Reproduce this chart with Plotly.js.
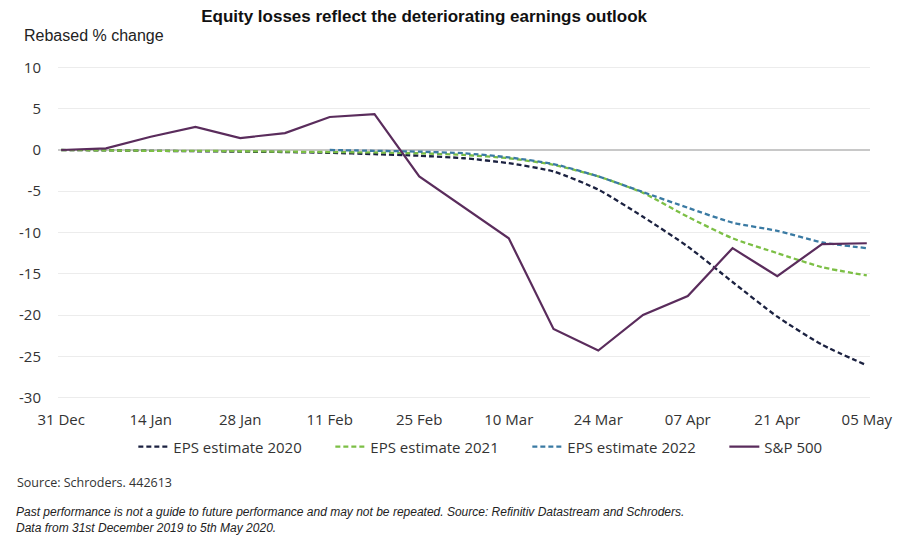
<!DOCTYPE html>
<html>
<head>
<meta charset="utf-8">
<script src="https://cdn.plot.ly/plotly-3.0.1.min.js"></script>
<style>html,body{margin:0;padding:0;background:#fff;}#chart{width:916px;height:535px;}</style>
</head>
<body>
<div id="chart"></div>
<script>
var dates = ["2019-12-31","2020-01-07","2020-01-14","2020-01-21","2020-01-28","2020-02-04","2020-02-11","2020-02-18","2020-02-25","2020-03-03","2020-03-10","2020-03-17","2020-03-24","2020-03-31","2020-04-07","2020-04-14","2020-04-21","2020-04-28","2020-05-05"];
var eps2020 = [0,-0.05,-0.1,-0.15,-0.2,-0.25,-0.35,-0.5,-0.7,-1.0,-1.6,-2.6,-4.8,-8.1,-11.7,-16.0,-20.2,-23.6,-26.1];
var eps2021 = [0,-0.05,-0.1,-0.1,-0.15,-0.2,-0.25,-0.3,-0.4,-0.6,-1.0,-1.8,-3.2,-5.2,-8.1,-10.7,-12.5,-14.2,-15.2];
var eps2022 = [null,null,null,null,null,null,0,-0.1,-0.2,-0.4,-0.9,-1.7,-3.2,-5.1,-7.0,-8.8,-9.8,-11.2,-11.9];
var sp500 = [0,0.2,1.6,2.8,1.45,2.05,4.0,4.35,-3.2,-6.9,-10.7,-21.7,-24.3,-20.0,-17.7,-11.9,-15.3,-11.4,-11.3];
var tickDates = ["2019-12-31","2020-01-14","2020-01-28","2020-02-11","2020-02-25","2020-03-10","2020-03-24","2020-04-07","2020-04-21","2020-05-05"];
var tickLabels = ["31 Dec","14 Jan","28 Jan","11 Feb","25 Feb","10 Mar","24 Mar","07 Apr","21 Apr","05 May"];
var yTicks = [10,5,0,-5,-10,-15,-20,-25,-30];
var names = ["EPS estimate 2020","EPS estimate 2021","EPS estimate 2022","S&P 500"];

var traces = [
  {x:dates,y:eps2020,name:names[0],type:"scatter",mode:"lines",line:{color:"#1b2140",width:2.3,dash:"5px,3px",shape:"spline",smoothing:0.6}},
  {x:dates,y:eps2021,name:names[1],type:"scatter",mode:"lines",line:{color:"#7cbf45",width:2.3,dash:"5px,3px",shape:"spline",smoothing:0.6}},
  {x:dates,y:eps2022,name:names[2],type:"scatter",mode:"lines",line:{color:"#3a7aa3",width:2.3,dash:"5px,3px",shape:"spline",smoothing:0.6}},
  {x:dates,y:sp500,name:names[3],type:"scatter",mode:"lines",line:{color:"#5a2c5c",width:2.2}}
];

var layout = {
  width:916,height:535,
  margin:{l:58,r:46,t:65,b:135,autoexpand:false},
  paper_bgcolor:"#fff",plot_bgcolor:"#fff",
  font:{family:"Open Sans, sans-serif",color:"#333",size:15},
  title:{text:"<b>Equity losses reflect the deteriorating earnings outlook</b>",font:{family:"Liberation Sans, Arial, sans-serif",size:17,color:"#111"},x:0.463,xanchor:"center",xref:"container",y:0.97,yref:"container",yanchor:"middle"},
  xaxis:{type:"date",range:["2019-12-30 12:00","2020-05-05 12:00"],tickvals:tickDates,ticktext:tickLabels,showgrid:false,zeroline:false,showline:false,ticks:"",tickfont:{size:15,color:"#333"},ticklabelstandoff:9,fixedrange:true},
  yaxis:{range:[-30.3,10.3],tickvals:yTicks,ticktext:yTicks.map(String),showgrid:true,gridcolor:"#ececec",gridwidth:1,zeroline:true,zerolinecolor:"#c8c8c8",zerolinewidth:1.5,showline:false,ticks:"",tickfont:{size:15,color:"#333"},ticklabelstandoff:16,fixedrange:true},
  showlegend:true,
  legend:{orientation:"h",x:0.578,xanchor:"center",y:-0.14,yanchor:"middle",font:{size:15,color:"#333"},traceorder:"normal",itemwidth:30,entrywidth:152,entrywidthmode:"pixels"},
  annotations:[
    {text:"Rebased % change",xref:"paper",yref:"paper",x:-0.0443,y:1.0866,xanchor:"left",yanchor:"middle",showarrow:false,font:{family:"Liberation Sans, Arial, sans-serif",size:16,color:"#222"}},
    {text:"Source: Schroders. 442613",xref:"paper",yref:"paper",x:-0.053,y:-0.2448,xanchor:"left",yanchor:"middle",showarrow:false,font:{family:"Open Sans, sans-serif",size:12.5,color:"#333"}},
    {text:"<i>Past performance is not a guide to future performance and may not be repeated. Source: Refinitiv Datastream and Schroders.</i><br><i>Data from 31st December 2019 to 5th May 2020.</i>",xref:"paper",yref:"paper",x:-0.0542,y:-0.3075,xanchor:"left",yanchor:"top",align:"left",showarrow:false,font:{family:"Liberation Sans, Arial, sans-serif",size:12,color:"#222"}}
  ]
};
Plotly.newPlot("chart",traces,layout,{displayModeBar:false,staticPlot:true});
</script>
</body>
</html>
